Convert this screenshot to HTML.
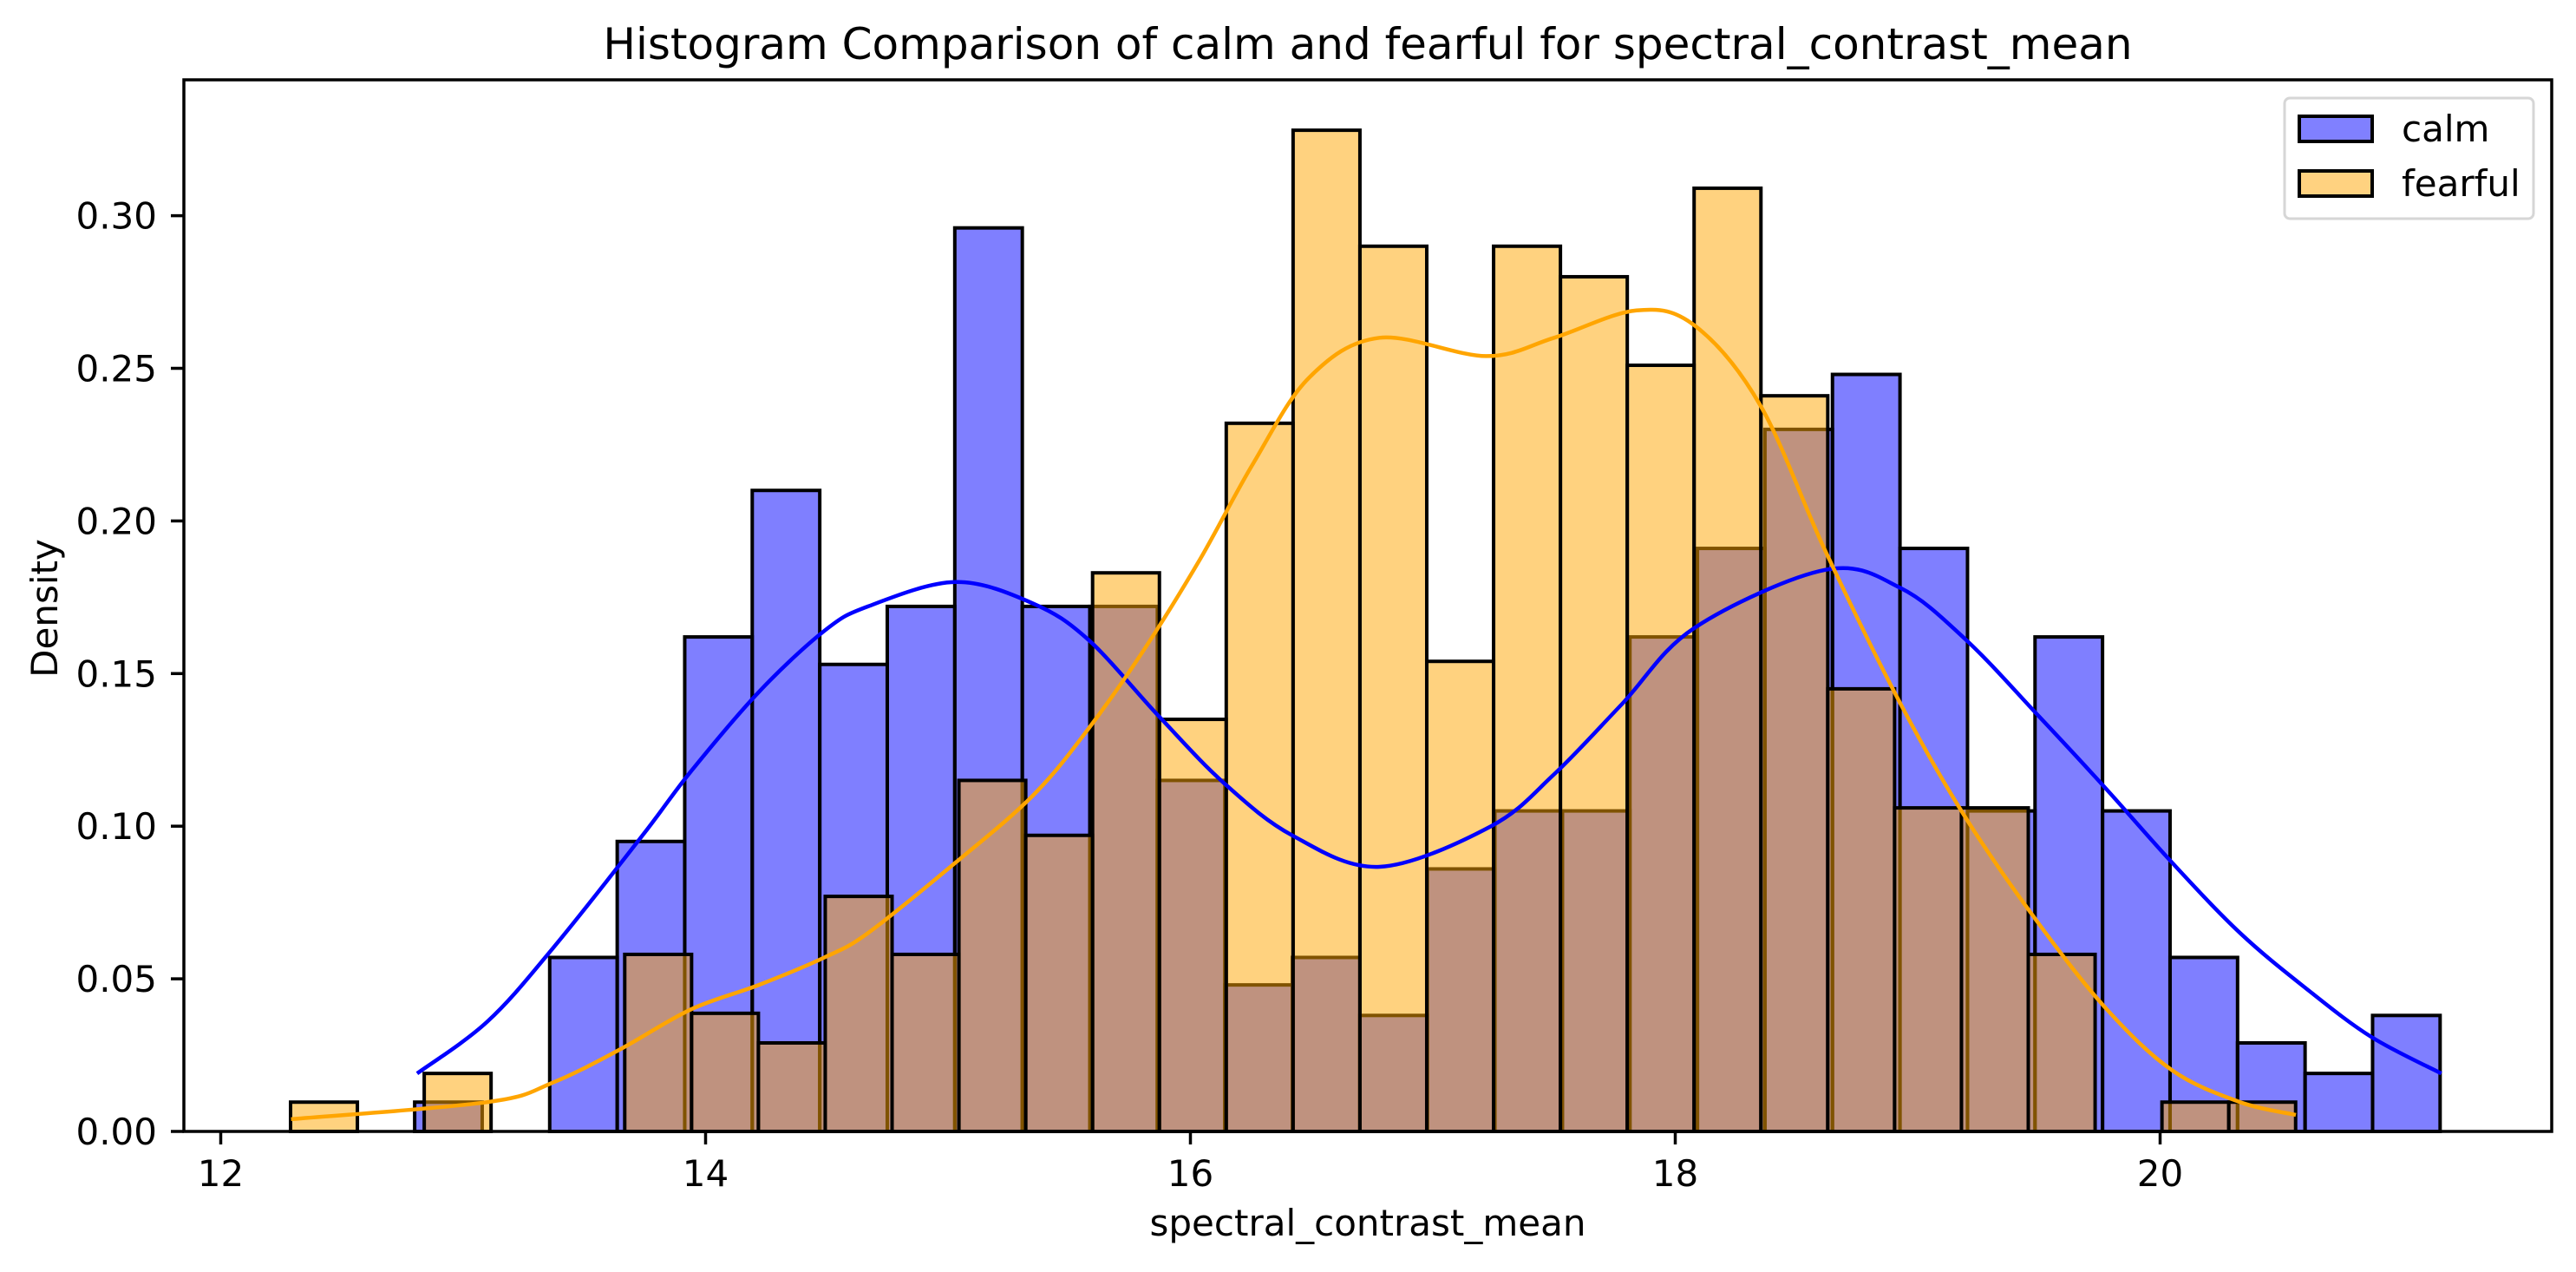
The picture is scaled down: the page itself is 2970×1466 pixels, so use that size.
<!DOCTYPE html>
<html><head><meta charset="utf-8"><style>
html,body{margin:0;padding:0;background:#fff;}
svg{display:block;font-family:"DejaVu Sans","Liberation Sans",sans-serif;}
</style></head><body>
<svg id="chart" width="2970" height="1466" viewBox="0 0 2970 1466" xmlns="http://www.w3.org/2000/svg">
<rect x="0" y="0" width="2970" height="1466" fill="#fff"/>
<g id="bars"></g>
<g id="lines"></g>
<g id="axes"></g>
</svg>
<script>
const calmStart = 12.80, calmWidth = 0.2785;
const calmDensity = [0.0096,0,0.057,0.095,0.162,0.21,0.153,0.172,0.296,0.172,0.172,0.115,0.048,0.057,0.038,0.086,0.105,0.105,0.162,0.191,0.23,0.248,0.191,0.105,0.162,0.105,0.057,0.029,0.019,0.038];
const fearStart = 12.288, fearWidth = 0.2757;
const fearDensity = [0.0096,0,0.019,0,0,0.058,0.0387,0.029,0.077,0.058,0.115,0.097,0.183,0.135,0.232,0.328,0.29,0.154,0.29,0.28,0.251,0.309,0.241,0.145,0.106,0.106,0.058,0,0.0096,0.0096];
const calmKdeX = [12.81,13.1,13.37,13.74,13.94,14.22,14.49,14.67,15.03,15.35,15.58,15.87,16.14,16.42,16.78,17.24,17.5,17.78,18.08,18.62,18.93,19.2,19.5,19.78,20.05,20.33,20.6,20.87,21.16];
const calmKdeY = [0.019,0.036,0.06,0.097,0.118,0.144,0.164,0.172,0.180,0.173,0.161,0.136,0.114,0.097,0.0867,0.1,0.117,0.14,0.165,0.184,0.178,0.161,0.136,0.112,0.088,0.065,0.047,0.031,0.019];
const fearKdeX = [12.29,13.1,13.37,13.65,13.94,14.22,14.49,14.67,15.03,15.35,15.58,15.81,16.04,16.26,16.49,16.78,17.22,17.5,17.84,18.08,18.35,18.62,18.93,19.2,19.5,19.78,20.05,20.33,20.56];
const fearKdeY = [0.004,0.0096,0.016,0.027,0.04,0.048,0.057,0.065,0.088,0.11,0.132,0.158,0.1875,0.219,0.247,0.26,0.254,0.26,0.269,0.264,0.238,0.19,0.14,0.1025,0.068,0.04,0.02,0.0096,0.0054];
const xTicks = [12,14,16,18,20];
const yTicks = [0,0.05,0.10,0.15,0.20,0.25,0.30];
const yTickLabels = ["0.00","0.05","0.10","0.15","0.20","0.25","0.30"];

const NS = "http://www.w3.org/2000/svg";
const L = 212, R = 2942, T = 92, B = 1304;
function xs(v){ return 254.5 + (v - 12) * 279.5; }
function ys(v){ return 1304 - v * 3518; }
function mk(tag, attrs, parent){ const e = document.createElementNS(NS, tag); for (const k in attrs) e.setAttribute(k, attrs[k]); parent.appendChild(e); return e; }
const bars = document.getElementById('bars'), lines = document.getElementById('lines'), axes = document.getElementById('axes');

calmDensity.forEach((d, i) => {
  if (d <= 0) return;
  const x0 = xs(calmStart + i * calmWidth), x1 = xs(calmStart + (i + 1) * calmWidth);
  const r = mk('rect', {x: x0, y: ys(d), width: x1 - x0, height: ys(0) - ys(d), fill: 'rgba(0,0,255,0.5)', stroke: '#000', 'stroke-width': 4}, bars);
  
  
});
fearDensity.forEach((d, i) => {
  if (d <= 0) return;
  const x0 = xs(fearStart + i * fearWidth), x1 = xs(fearStart + (i + 1) * fearWidth);
  const r = mk('rect', {x: x0, y: ys(d), width: x1 - x0, height: ys(0) - ys(d), fill: 'rgba(255,165,0,0.5)', stroke: '#000', 'stroke-width': 4}, bars);
  
  
});
function path(xa, ya){
  const p = xa.map((x, i) => [xs(x), ys(ya[i])]);
  let d = 'M' + p[0][0].toFixed(1) + ',' + p[0][1].toFixed(1);
  for (let i = 0; i < p.length - 1; i++) {
    const p0 = p[Math.max(0, i - 1)], p1 = p[i], p2 = p[i + 1], p3 = p[Math.min(p.length - 1, i + 2)];
    const c1 = [p1[0] + (p2[0] - p0[0]) / 6, p1[1] + (p2[1] - p0[1]) / 6];
    const c2 = [p2[0] - (p3[0] - p1[0]) / 6, p2[1] - (p3[1] - p1[1]) / 6];
    d += ' C' + c1[0].toFixed(1) + ',' + c1[1].toFixed(1) + ' ' + c2[0].toFixed(1) + ',' + c2[1].toFixed(1) + ' ' + p2[0].toFixed(1) + ',' + p2[1].toFixed(1);
  }
  return d;
}
const cl = mk('path', {d: path(calmKdeX, calmKdeY), fill: 'none', stroke: '#0000ff', 'stroke-width': 4.5, 'stroke-linejoin': 'round'}, lines);


const fl = mk('path', {d: path(fearKdeX, fearKdeY), fill: 'none', stroke: '#ffa500', 'stroke-width': 4.5, 'stroke-linejoin': 'round'}, lines);



const frame = mk('rect', {x: L, y: T, width: R - L, height: B - T, fill: 'none', stroke: '#000', 'stroke-width': 3.5}, axes);


xTicks.forEach(t => {
  const tk = mk('line', {x1: xs(t), x2: xs(t), y1: B, y2: B + 15, stroke: '#000', 'stroke-width': 3.5}, axes);
  
  
  const tx = mk('text', {x: xs(t), y: 1367, 'font-size': 42, 'text-anchor': 'middle', fill: '#000'}, axes);
  tx.textContent = String(t);
  
  
});
yTicks.forEach((t, i) => {
  const tk = mk('line', {x1: L - 15, x2: L, y1: ys(t), y2: ys(t), stroke: '#000', 'stroke-width': 3.5}, axes);
  
  
  const tx = mk('text', {x: 181, y: ys(t) + 15, 'font-size': 42, 'text-anchor': 'end', fill: '#000'}, axes);
  tx.textContent = yTickLabels[i];
  
  
});
</script>
<svg style="position:absolute;left:0;top:0;font-family:'DejaVu Sans','Liberation Sans',sans-serif" width="2970" height="1466">
<text x="1577" y="68" font-size="50" text-anchor="middle">Histogram Comparison of calm and fearful for spectral_contrast_mean</text>
<text x="1577" y="1424" font-size="42" text-anchor="middle">spectral_contrast_mean</text>
<text x="0" y="0" font-size="42" text-anchor="middle" transform="translate(66,701) rotate(-90)">Density</text>
<g>
<rect x="2634" y="113" width="287" height="139" rx="6" fill="#fff" fill-opacity="0.8" stroke="#d6d6d6" stroke-width="3"/>
<rect x="2651" y="134" width="84" height="29" fill="#8080ff" stroke="#000" stroke-width="4"/>
<text x="2769" y="163" font-size="42">calm</text>
<rect x="2651" y="197" width="84" height="29" fill="#ffd280" stroke="#000" stroke-width="4"/>
<text x="2769" y="226" font-size="42">fearful</text>
</g>
</svg>
</body></html>
